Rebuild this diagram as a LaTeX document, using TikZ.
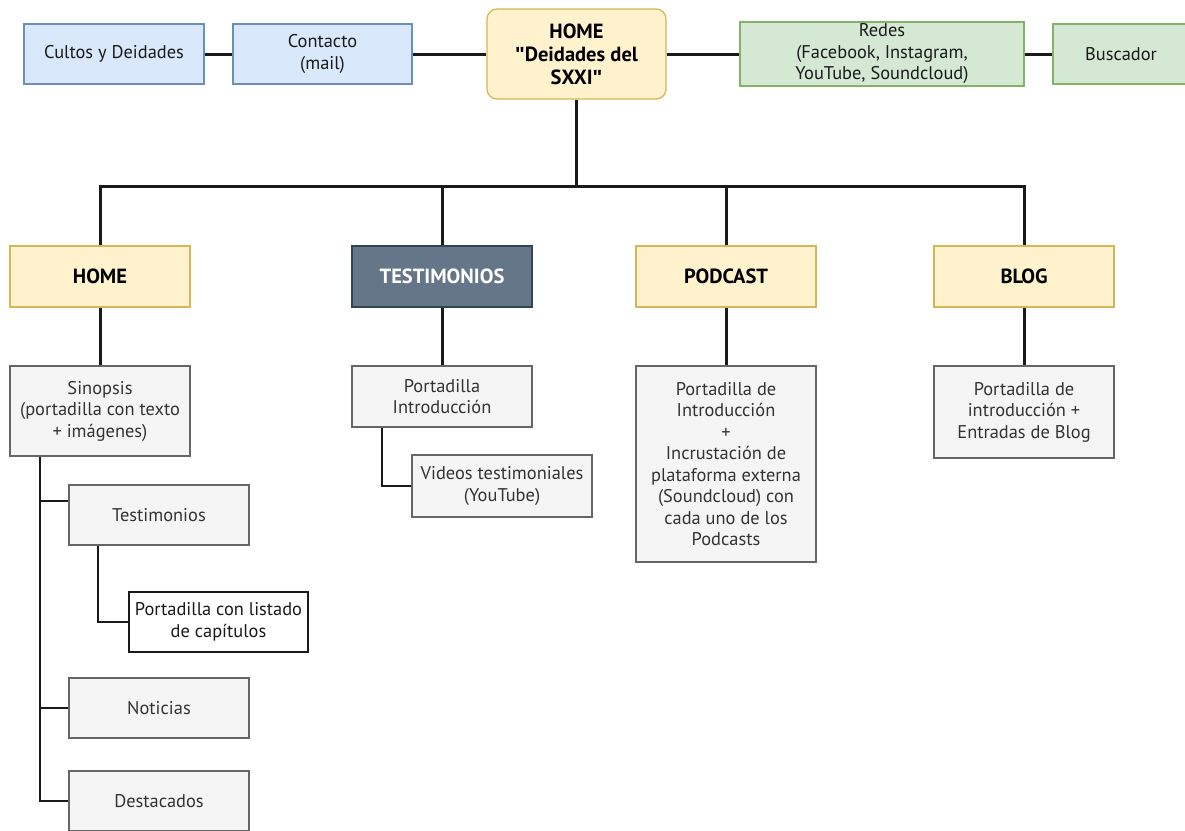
\documentclass[tikz,border=0pt]{standalone}
\usepackage{fontspec}
\setmainfont{PT Sans}
\newfontfamily\qfont{Liberation Sans}
\newcommand{\sq}{{\qfont\bfseries\char34}}
\definecolor{bluefill}{HTML}{DAE8FC}
\definecolor{blueline}{HTML}{6C8EBF}
\definecolor{greenfill}{HTML}{D5E8D4}
\definecolor{greenline}{HTML}{82B366}
\definecolor{yelfill}{HTML}{FFF2CC}
\definecolor{yelline}{HTML}{D6B656}
\definecolor{grayfill}{HTML}{F5F5F5}
\definecolor{grayline}{HTML}{666666}
\definecolor{grtext}{HTML}{333333}
\definecolor{slatefill}{HTML}{647687}
\definecolor{slateline}{HTML}{314354}
\definecolor{conn}{HTML}{1A1A1A}
\begin{document}
\begin{tikzpicture}[x=1pt,y=-1pt,
  base/.style={rectangle, align=center, inner sep=2pt, line width=1.3pt,
    font=\fontsize{18.4}{21.5}\selectfont},
  bluebox/.style={base, fill=bluefill, draw=blueline, text=conn},
  greenbox/.style={base, fill=greenfill, draw=greenline, text=conn},
  yelbox/.style={base, fill=yelfill, draw=yelline, text=black,
    font=\fontsize{20.5}{23}\selectfont\bfseries},
  graybox/.style={base, fill=grayfill, draw=grayline, text=grtext},
  whitebox/.style={base, fill=white, draw=conn, text=conn},
  slatebox/.style={base, fill=slatefill, draw=slateline, text=white,
    font=\fontsize{20.5}{23}\selectfont\bfseries},
  sz/.style 2 args={minimum width=#1pt, minimum height=#2pt},
  mainconn/.style={draw=conn, line width=3pt},
  subconn/.style={draw=conn, line width=2.2pt}
]
\useasboundingbox (0,0) rectangle (1185,830);

% top row
\node[bluebox, sz={180}{60}] (cultos) at (114,54) {Cultos y Deidades};
\node[bluebox, sz={179}{60}] (contacto) at (322.5,54) {Contacto\\(mail)};
\node[yelbox, sz={179}{90}, rounded corners=10pt] (home) at (576.5,54) {HOME\\\sq Deidades del\\SXXI\sq};
\node[greenbox, sz={284}{60}] (redes) at (882,54) {Redes\\(Facebook, Instagram,\\YouTube, Soundcloud)};
\node[greenbox, sz={136}{60}] (buscador) at (1121,54) {Buscador};

% level 2
\node[yelbox, sz={180}{61}] (home2) at (100,276.5) {HOME};
\node[slatebox, sz={180}{61}] (testim) at (442,276.5) {TESTIMONIOS};
\node[yelbox, sz={180}{61}] (podcast) at (726,276.5) {PODCAST};
\node[yelbox, sz={180}{61}] (blog) at (1024,276.5) {BLOG};

% level 3
\node[graybox, sz={180}{90}] (sinopsis) at (100,411) {Sinopsis\\(portadilla con texto\\+ imágenes)};
\node[graybox, sz={180}{61}] (intro) at (442,396.5) {Portadilla\\Introducción};
\node[graybox, sz={180}{62}] (videos) at (502,486) {Videos testimoniales\\(YouTube)};
\node[graybox, sz={180}{196}] (pod3) at (726,464) {Portadilla de\\Introducción\\+\\Incrustación de\\plataforma externa\\(Soundcloud) con\\cada uno de los\\Podcasts};
\node[graybox, sz={180}{92}] (blog3) at (1024,412) {Portadilla de\\introducción +\\Entradas de Blog};

% left column
\node[graybox, sz={180}{60}] (testim3) at (159,515) {Testimonios};
\node[whitebox, sz={179}{60}] (listado) at (218.5,622) {Portadilla con listado\\de capítulos};
\node[graybox, sz={180}{60}] (noticias) at (159,708) {Noticias};
\node[graybox, sz={180}{60}] (destacados) at (159,801) {Destacados};

\coordinate (bar) at (0,186);
\coordinate (sx) at (40,0);
\coordinate (tb) at ([yshift=14pt]testim3.west);

% top connectors
\draw[mainconn] (cultos.east) -- (contacto.west);
\draw[mainconn] (contacto.east) -- (home.west);
\draw[mainconn] (home.east) -- (redes.west);
\draw[mainconn] (redes.east) -- (buscador.west);

% tree to level 2
\draw[mainconn] (home.south) -- (home.south |- bar);
\draw[mainconn] (home2.north) |- (bar -| blog.north) -- (blog.north);
\draw[mainconn] (testim.north) -- (testim.north |- bar);
\draw[mainconn] (podcast.north) -- (podcast.north |- bar);

% level 2 to 3
\draw[mainconn] (home2.south) -- (sinopsis.north);
\draw[mainconn] (testim.south) -- (intro.north);
\draw[mainconn] (podcast.south) -- (pod3.north);
\draw[mainconn] (blog.south) -- (blog3.north);

% sub trees
\draw[subconn] ([xshift=31pt]intro.south west) |- (videos.west);
\draw[subconn] (sinopsis.south -| sx) |- (destacados.west);
\draw[subconn] (sx |- noticias.west) -- (noticias.west);
\draw[subconn] (sx |- tb) -- (tb);
\draw[subconn] ([xshift=30pt]testim3.south west) |- (listado.west);
\end{tikzpicture}
\end{document}
